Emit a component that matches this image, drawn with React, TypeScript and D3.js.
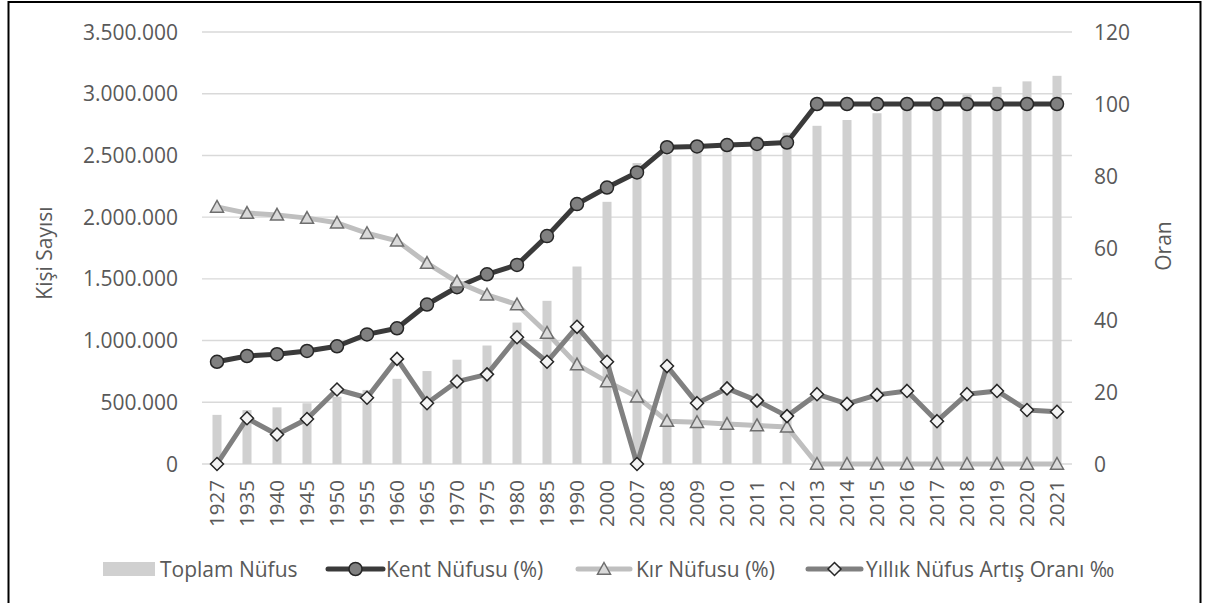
import React from 'react'
import * as d3 from 'd3'

const years = ['1927', '1935', '1940', '1945', '1950', '1955', '1960', '1965', '1970', '1975', '1980', '1985', '1990', '2000', '2007', '2008', '2009', '2010', '2011', '2012', '2013', '2014', '2015', '2016', '2017', '2018', '2019', '2020', '2021']
const toplam = [398000, 437000, 459000, 492000, 545000, 600000, 690000, 753000, 845000, 960000, 1146000, 1322000, 1600000, 2124000, 2438000, 2508000, 2551000, 2605000, 2652000, 2684000, 2740000, 2787000, 2842000, 2901000, 2937000, 2995000, 3056000, 3100000, 3145000]
const kent = [28.4, 30.0, 30.5, 31.4, 32.7, 36.0, 37.7, 44.3, 49.1, 52.7, 55.3, 63.3, 72.2, 76.8, 81.0, 88.0, 88.2, 88.6, 88.9, 89.3, 100, 100, 100, 100, 100, 100, 100, 100, 100]
const kir = [71.4, 69.7, 69.2, 68.3, 67.0, 64.1, 62.0, 55.8, 50.6, 47.0, 44.3, 36.4, 27.6, 22.9, 18.7, 11.9, 11.6, 11.1, 10.7, 10.3, 0, 0, 0, 0, 0, 0, 0, 0, 0]
const artis = [0, 12.7, 8.2, 12.5, 20.7, 18.4, 29.2, 16.9, 22.9, 24.9, 35.2, 28.4, 38.1, 28.4, 0, 27.2, 16.9, 21.0, 17.6, 13.3, 19.4, 16.7, 19.2, 20.3, 11.9, 19.4, 20.3, 15.0, 14.5]
const leftTicks = [0, 500000, 1000000, 1500000, 2000000, 2500000, 3000000, 3500000]
const rightTicks = [0, 20, 40, 60, 80, 100, 120]

const FONT = '"Open Sans", sans-serif'
const TXT = '#595959'
const FS = 21

const fmt = (v: number) => d3.format(',')(v).replace(/,/g, '.')

const triPath = (cx: number, cy: number, s = 6.5) =>
  `M${cx},${cy - s}L${cx + s},${cy + s * 0.8}L${cx - s},${cy + s * 0.8}Z`
const diaPath = (cx: number, cy: number, s = 6.5) =>
  `M${cx},${cy - s}L${cx + s},${cy}L${cx},${cy + s}L${cx - s},${cy}Z`

export default function App() {
  const x = d3.scaleBand<string>().domain(years).range([202, 1072])
  const cx = (d: string) => (x(d) as number) + x.bandwidth() / 2
  const yL = d3.scaleLinear().domain([0, 3500000]).range([464, 32])
  const yR = d3.scaleLinear().domain([0, 120]).range([464, 32])
  const line = (vals: number[]) =>
    d3.line<number>().x((_, i) => cx(years[i])).y(v => yR(v))(vals) as string

  return (
    <svg width={1208} height={603} style={{ position: 'absolute', left: 0, top: 0, background: '#fff' }} fontFamily={FONT}>
      <rect x={8.5} y={2} width={1192} height={640} fill="#fff" stroke="#000" strokeWidth={2} />
      {leftTicks.map(t => (
        <line key={t} x1={202} x2={1072} y1={yL(t)} y2={yL(t)} stroke="#d9d9d9" strokeWidth={1.4} />
      ))}
      {leftTicks.map(t => (
        <text key={t} x={178} y={yL(t)} dy="0.36em" textAnchor="end" fontSize={FS} fill={TXT}>{fmt(t)}</text>
      ))}
      {rightTicks.map(t => (
        <text key={t} x={1094} y={yR(t)} dy="0.36em" textAnchor="start" fontSize={FS} fill={TXT}>{t}</text>
      ))}
      <text transform="translate(44,253) rotate(-90)" dy="0.36em" textAnchor="middle" fontSize={FS} fill={TXT}>Kişi Sayısı</text>
      <text transform="translate(1163,246) rotate(-90)" dy="0.36em" textAnchor="middle" fontSize={FS} fill={TXT}>Oran</text>
      {years.map(y => (
        <text key={y} transform={`translate(${cx(y)},480) rotate(-90)`} dy="0.36em" textAnchor="end" fontSize={20.5} fill={TXT}>{y}</text>
      ))}
      {toplam.map((v, i) => (
        <rect key={years[i]} x={cx(years[i]) - 4.5} width={9} y={yL(v)} height={yL(0) - yL(v)} fill="#d0d0d0" />
      ))}
      <path d={line(kent)} fill="none" stroke="#3a3a3a" strokeWidth={5} strokeLinejoin="round" />
      {kent.map((v, i) => (
        <circle key={years[i]} cx={cx(years[i])} cy={yR(v)} r={6.5} fill="#808080" stroke="#262626" strokeWidth={1.5} />
      ))}
      <path d={line(kir)} fill="none" stroke="#bfbfbf" strokeWidth={5} strokeLinejoin="round" />
      {kir.map((v, i) => (
        <path key={years[i]} d={triPath(cx(years[i]), yR(v))} fill="#d9d9d9" stroke="#6e6e6e" strokeWidth={1.5} />
      ))}
      <path d={line(artis)} fill="none" stroke="#808080" strokeWidth={5} strokeLinejoin="round" />
      {artis.map((v, i) => (
        <path key={years[i]} d={diaPath(cx(years[i]), yR(v))} fill="#f4f4f4" stroke="#262626" strokeWidth={1.5} />
      ))}
      <g fontSize={FS} fill={TXT}>
        <rect x={103} y={562} width={52} height={14} fill="#d0d0d0" />
        <text x={160} y={569} dy="0.36em">Toplam Nüfus</text>
        <line x1={328} x2={383} y1={569} y2={569} stroke="#3a3a3a" strokeWidth={5} strokeLinecap="round" />
        <circle cx={355.5} cy={569} r={6.5} fill="#808080" stroke="#262626" strokeWidth={1.5} />
        <text x={386} y={569} dy="0.36em">Kent Nüfusu (%)</text>
        <line x1={578} x2={630} y1={569} y2={569} stroke="#bfbfbf" strokeWidth={5} strokeLinecap="round" />
        <path d={triPath(604, 569)} fill="#d9d9d9" stroke="#6e6e6e" strokeWidth={1.5} />
        <text x={636} y={569} dy="0.36em">Kır Nüfusu (%)</text>
        <line x1={808} x2={861} y1={569} y2={569} stroke="#808080" strokeWidth={5} strokeLinecap="round" />
        <path d={diaPath(834.5, 569)} fill="#f4f4f4" stroke="#262626" strokeWidth={1.5} />
        <text x={866} y={569} dy="0.36em">Yıllık Nüfus Artış Oranı ‰</text>
      </g>
    </svg>
  )
}
